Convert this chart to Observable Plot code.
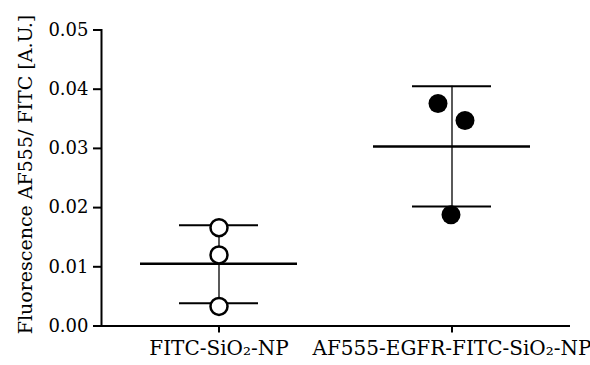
<!DOCTYPE html>
<html>
<head>
<meta charset="utf-8">
<script src="https://cdn.jsdelivr.net/npm/d3@7"></script>
<script src="https://cdn.jsdelivr.net/npm/@observablehq/plot@0.6"></script>
<style>
  html, body { margin: 0; padding: 0; background: white; }
</style>
</head>
<body>
<div id="chart"></div>
<script>
const groups = ["FITC-SiO\u2082-NP", "AF555-EGFR-FITC-SiO\u2082-NP"];
const means = [0.0105, 0.0303];
const sdLow = [0.00385, 0.0202];
const sdHigh = [0.0170, 0.0405];
const pointGroup = [0, 0, 0, 1, 1, 1];
const pointValues = [0.0166, 0.0120, 0.0033, 0.0376, 0.0347, 0.0188];
const pointJitter = [0, 0, 0, -14, 13, -1];
const yTicks = [0, 0.01, 0.02, 0.03, 0.04, 0.05];
const yLabel = "Fluorescence AF555/ FITC [A.U.]";

const stats = groups.map((g, i) => ({group: g, mean: means[i], lo: sdLow[i], hi: sdHigh[i]}));
const points = pointValues.map((v, i) => ({group: groups[pointGroup[i]], value: v, filled: pointGroup[i] === 1, jitter: pointJitter[i]}));

const dotMarks = points.map(p => Plot.dot([p], {
  x: "group", y: "value", r: p.filled ? 9.5 : 8.5,
  fill: p.filled ? "black" : "white", stroke: "black",
  strokeWidth: p.filled ? 0 : 2.5, dx: p.jitter
}));

const fmt = d3.format(".2f");

const chart = Plot.plot({
  width: 590, height: 365,
  marginLeft: 101, marginRight: 20, marginTop: 29.5, marginBottom: 39.5,
  style: {fontFamily: "DejaVu Serif", fontSize: "18px", color: "black", background: "white"},
  x: {type: "band", domain: groups, paddingInner: 0.326, paddingOuter: 0.169, label: null},
  y: {domain: [0, 0.05], label: null},
  marks: [
    Plot.axisY({ticks: yTicks, tickFormat: () => "", tickSize: 8, strokeWidth: 2, label: null}),
    Plot.text(yTicks, {y: d => d, text: d => fmt(d), frameAnchor: "left", textAnchor: "end",
      dx: -13, fontSize: 18, fill: "black"}),
    Plot.axisX({tickSize: 7, tickPadding: 8, strokeWidth: 2, fontSize: 20, label: null}),
    Plot.text([yLabel], {frameAnchor: "left", textAnchor: "middle", lineAnchor: "middle",
      rotate: -90, dx: -76, dy: -3.5, fontSize: 19, fill: "black"}),
    Plot.frame({anchor: "left", strokeWidth: 2}),
    Plot.ruleY([0], {strokeWidth: 2}),
    Plot.ruleX(stats, {x: "group", y1: "lo", y2: "hi", strokeWidth: 1.3}),
    Plot.tickY(stats, {x: "group", y: "hi", strokeWidth: 2, insetLeft: 39, insetRight: 39}),
    Plot.tickY(stats, {x: "group", y: "lo", strokeWidth: 2, insetLeft: 39, insetRight: 39}),
    Plot.tickY(stats, {x: "group", y: "mean", strokeWidth: 2.5}),
    ...dotMarks
  ]
});
document.getElementById("chart").appendChild(chart);
</script>
</body>
</html>
